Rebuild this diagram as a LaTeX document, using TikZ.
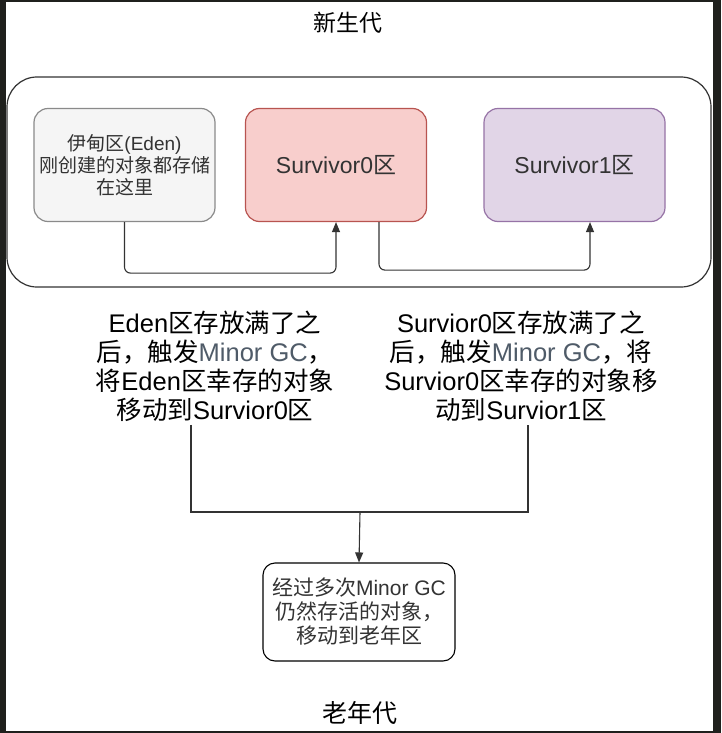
\documentclass[tikz,border=0pt]{standalone}
\usepackage{fontspec}
\usepackage{xcolor}
\usepackage{tikz}
\usetikzlibrary{arrows.meta}
\setmainfont{Liberation Sans}
\newfontfamily\cjk{Noto Sans CJK SC}

\definecolor{framebg}{HTML}{1F201D}
\definecolor{edge}{HTML}{333333}
\definecolor{txtgray}{HTML}{333333}
\definecolor{gcblue}{HTML}{4F5B68}
\definecolor{edenfill}{HTML}{F5F5F5}
\definecolor{edenline}{HTML}{8A8A8A}
\definecolor{survfill}{HTML}{F8CECC}
\definecolor{survline}{HTML}{B85450}
\definecolor{purpfill}{HTML}{E1D5E7}
\definecolor{purpline}{HTML}{9673A6}

\tikzset{
	region/.style={rounded corners=14pt, line width=1.2pt, minimum width=181pt, minimum height=113pt, align=center, text=txtgray},
	note/.style={align=center, font=\fontsize{25.5}{29}\selectfont},
	link/.style={draw=edge, line width=1.1pt, rounded corners=6pt},
	tip/.style={-{Triangle[length=10pt,width=8pt]}}
}

\begin{document}
\begin{tikzpicture}[x=1pt, y=-1pt]
	% frame of the screenshot
	\fill[framebg] (0,0) rectangle (721,733);
	\fill[white] (6,2) rectangle (713,731);
	\useasboundingbox (0,0) rectangle (721,733);

	\node(young) at (348,23){\fontsize{23}{26}\selectfont\cjk 新生代};
	\draw[edge, line width=1.2pt, rounded corners=30pt] (7,77) rectangle (711,287);

	\node[region, fill=edenfill, draw=edenline, font=\fontsize{19}{22}\selectfont](eden) at (124.5,165){{\cjk 伊甸区}(Eden)\\{\cjk 刚创建的对象都存储}\\{\cjk 在这里}};
	\node[region, fill=survfill, draw=survline, font=\fontsize{23}{26}\selectfont](surv0) at (336,165){Survivor0{\cjk 区}};
	\node[region, fill=purpfill, draw=purpline, font=\fontsize{23}{26}\selectfont](surv1) at (574.5,165){Survivor1{\cjk 区}};

	\draw[link, tip] (eden.south) -- ++(0,51) -| (surv0.south);
	\draw[link, tip] ([xshift=43pt]surv0.south) -- ++(0,48) -| ([xshift=15.5pt]surv1.south);

	\node[note](note1) at (215,366){Eden{\cjk 区存放满了之}\\{\cjk 后，触发}\textcolor{gcblue}{Minor GC}{\cjk ，}\\{\cjk 将}Eden{\cjk 区幸存的对象}\\{\cjk 移动到}Survior0{\cjk 区}};
	\node[note](note2) at (521,366){Survior0{\cjk 区存放满了之}\\{\cjk 后，触发}\textcolor{gcblue}{Minor GC}{\cjk ，将}\\Survior0{\cjk 区幸存的对象移}\\{\cjk 动到}Survior1{\cjk 区}};

	\node[draw=black, line width=1.1pt, rounded corners=12pt, minimum width=192pt, minimum height=98pt, align=center, text=txtgray, font=\fontsize{21}{24}\selectfont](oldbox) at (359,612){{\cjk 经过多次}Minor GC\\{\cjk 仍然存活的对象，}\\{\cjk 移动到老年区}};

	\coordinate(join) at (360,512);
	\draw[link, rounded corners=0pt] ([xshift=-24pt]note1.south) |- (join) -| ([xshift=7pt]note2.south);
	\draw[link, tip] (join) -- (oldbox.north);

	\node(old) at (360,713){\fontsize{25}{28}\selectfont\cjk 老年代};
\end{tikzpicture}
\end{document}
